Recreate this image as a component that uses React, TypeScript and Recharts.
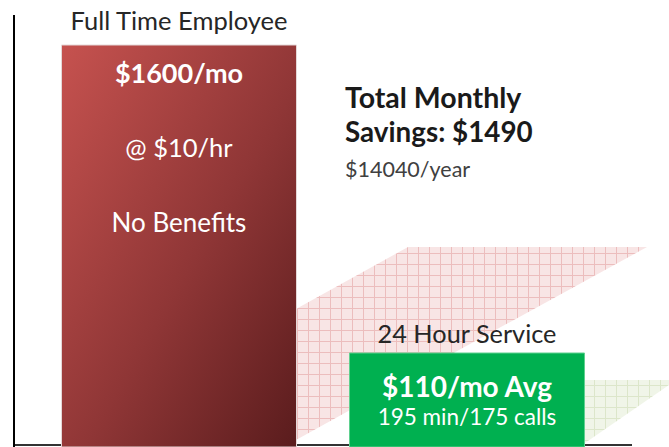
import {
  Area,
  Bar,
  Cell,
  ComposedChart,
  LabelList,
  ReferenceDot,
  XAxis,
  YAxis,
} from 'recharts';

// bar heights are drawn, not to scale (the original is an infographic)
const categories = ['Full Time Employee', '24 Hour Service'];
const barLevels = [402, 94];
const barLines = [
  ['$1600/mo', '@ $10/hr', 'No Benefits'],
  ['$110/mo Avg', '195 min/175 calls'],
];
const savingsLines = ['Total Monthly', 'Savings: $1490', '$14040/year'];

// grid bands behind the bars
const redBandX = [296, 408, 647];
const redBandLow = [7, 69, 200];
const redBandHigh = [138, 200, 200];
const greenBandX = [585, 669];
const greenBandLow = [4, 62];
const greenBandHigh = [67, 67];

// base line of the chart, a thin strip under the bars
const baseX = [14, 632];
const baseLow = [1, 1];
const baseHigh = [3, 3];

const FONT = 'Lato, "Open Sans", sans-serif';

const chartData = categories.map((name, i) => ({ name, level: barLevels[i] }));
const redBand = redBandX.map((x, i) => ({ x, range: [redBandLow[i], redBandHigh[i]] }));
const greenBand = greenBandX.map((x, i) => ({ x, range: [greenBandLow[i], greenBandHigh[i]] }));
const baseStrip = baseX.map((x, i) => ({ x, range: [baseLow[i], baseHigh[i]] }));

const titleOffset = [-15, -10];
const titleSize = [25.5, 25.3];
const lineStyles = [
  [
    { dy: 38, size: 27, weight: 700 },
    { dy: 112, size: 25.5, weight: 400 },
    { dy: 187, size: 26, weight: 400 },
  ],
  [
    { dy: 44, size: 28, weight: 700 },
    { dy: 72, size: 22.5, weight: 400 },
  ],
];

function BarText(props: any) {
  const { x, y, width, value } = props;
  const i = categories.indexOf(value);
  const cx = x + width / 2;
  return (
    <g fontFamily={FONT}>
      <text x={cx} y={y + titleOffset[i]} textAnchor="middle" fontSize={titleSize[i]} fill="#262626">
        {value}
      </text>
      {barLines[i].map((line, j) => (
        <text
          key={line}
          x={cx}
          y={y + lineStyles[i][j].dy}
          textAnchor="middle"
          fontSize={lineStyles[i][j].size}
          fontWeight={lineStyles[i][j].weight}
          fill="#ffffff"
        >
          {line}
        </text>
      ))}
    </g>
  );
}

function SavingsText(props: any) {
  const { cx, cy } = props;
  return (
    <g fontFamily={FONT}>
      <text x={cx} y={cy} fontSize={28.5} fontWeight={700} fill="#1a1a1a">
        {savingsLines[0]}
      </text>
      <text x={cx} y={cy + 34} fontSize={27.8} fontWeight={700} fill="#1a1a1a">
        {savingsLines[1]}
      </text>
      <text x={cx} y={cy + 69} fontSize={21.5} fill="#404040">
        {savingsLines[2]}
      </text>
    </g>
  );
}

export default function App() {
  return (
    <div style={{ position: 'absolute', left: 0, top: 0, background: '#fff' }}>
      <ComposedChart
        width={669}
        height={447}
        data={chartData}
        margin={{ top: 15, right: 0, bottom: 0, left: 0 }}
      >
        <defs>
          <linearGradient id="redGrad" x1="0" y1="0" x2="1" y2="1">
            <stop offset="0%" stopColor="#c6524f" />
            <stop offset="55%" stopColor="#8f3636" />
            <stop offset="100%" stopColor="#5a1c1d" />
          </linearGradient>
          <pattern id="redGrid" width="11" height="11" patternUnits="userSpaceOnUse">
            <rect width="11" height="11" fill="#f8e5e5" />
            <path d="M0 0.5 H11 M0.5 0 V11" stroke="#ecbdbd" strokeWidth="1" />
          </pattern>
          <pattern id="greenGrid" width="11" height="11" patternUnits="userSpaceOnUse">
            <rect width="11" height="11" fill="#f0f5e8" />
            <path d="M0 0.5 H11 M0.5 0 V11" stroke="#dce6ca" strokeWidth="1" />
          </pattern>
        </defs>
        <XAxis dataKey="name" hide padding={{ left: 20.5, right: 58.5 }} />
        <XAxis
          xAxisId="px"
          dataKey="x"
          type="number"
          domain={[14, 669]}
          allowDataOverflow
          hide
        />
        <YAxis
          width={14}
          domain={[0, 432]}
          allowDataOverflow
          tick={false}
          tickLine={false}
          axisLine={{ stroke: '#000', strokeWidth: 2 }}
        />
        <Area
          xAxisId="px"
          data={redBand}
          dataKey="range"
          type="linear"
          stroke="none"
          fill="url(#redGrid)"
          fillOpacity={1}
          dot={false}
          activeDot={false}
          isAnimationActive={false}
        />
        <Area
          xAxisId="px"
          data={greenBand}
          dataKey="range"
          type="linear"
          stroke="none"
          fill="url(#greenGrid)"
          fillOpacity={1}
          dot={false}
          activeDot={false}
          isAnimationActive={false}
        />
        <Area
          xAxisId="px"
          data={baseStrip}
          dataKey="range"
          type="linear"
          stroke="none"
          fill="#333333"
          fillOpacity={1}
          dot={false}
          activeDot={false}
          isAnimationActive={false}
        />
        <Bar dataKey="level" barSize={235} isAnimationActive={false}>
          <Cell fill="url(#redGrad)" stroke="#e4d8d8" strokeWidth={1} />
          <Cell fill="#00b050" stroke="#5fd08f" strokeWidth={1} />
          <LabelList dataKey="name" content={BarText} />
        </Bar>
        <ReferenceDot xAxisId="px" x={345} y={339} r={0} shape={SavingsText} />
      </ComposedChart>
    </div>
  );
}
